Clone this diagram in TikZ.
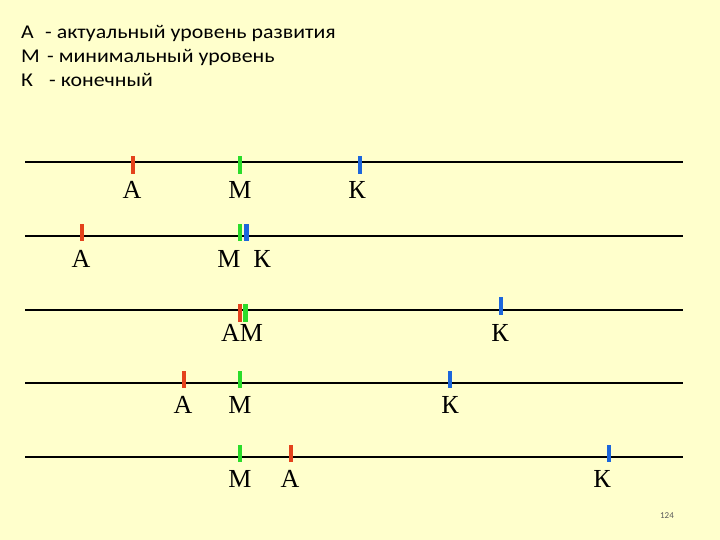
\documentclass[tikz,border=0pt]{standalone}
\usepackage{fontspec}
\setmainfont{Carlito}
\newfontfamily\legendfont{Carlito}[FakeStretch=1.12]
\newfontfamily\levelfont{Liberation Serif}
\usetikzlibrary{positioning}

\definecolor{paper}{HTML}{FFFFCC}
\definecolor{actred}{HTML}{E4421C}
\definecolor{mingreen}{HTML}{2ADC2A}
\definecolor{endblue}{HTML}{1C66DC}

\begin{document}
\begin{tikzpicture}[
    x=1pt,y=-1pt,
    axis/.style={line width=2.4pt},
    notch/.style={rectangle,inner sep=0pt,minimum width=4.5pt,minimum height=17.5pt},
    tickA/.style={notch,fill=actred},
    tickM/.style={notch,fill=mingreen},
    tickK/.style={notch,fill=endblue},
    letter/.style={inner sep=0pt,anchor=base,font=\levelfont\fontsize{26}{26}\selectfont},
    legend/.style={inner sep=0pt,anchor=base west,font=\legendfont\fontsize{19.5}{20}\selectfont}
    ]

  \fill[paper] (0,0) rectangle (720,540);
  \useasboundingbox (0,0) rectangle (720,540);

  % legend
  \node(keyA) [legend] at (21,39) {А};
  \node(descA) [legend] at (45,39) {- актуальный уровень развития};
  \node(keyM) [legend] at (21,63) {М};
  \node(descM) [legend] at (47,63) {- минимальный уровень};
  \node(keyK) [legend] at (21,87) {К};
  \node(descK) [legend] at (49,87) {- конечный};

  % scales
  \coordinate(w1) at (25,162);  \coordinate(e1) at (683,162);
  \coordinate(w2) at (25,236);  \coordinate(e2) at (683,236);
  \coordinate(w3) at (25,310);  \coordinate(e3) at (683,310);
  \coordinate(w4) at (25,383);  \coordinate(e4) at (683,383);
  \coordinate(w5) at (25,457);  \coordinate(e5) at (683,457);

  \draw[axis] (w1) -- (e1);
  \draw[axis] (w2) -- (e2);
  \draw[axis] (w3) -- (e3);
  \draw[axis] (w4) -- (e4);
  \draw[axis] (w5) -- (e5);

  % row 1
  \node(a1) [tickA] at (133,165) {};
  \node(m1) [tickM] at (240,165) {};
  \node(k1) [tickK] at (360,165) {};
  \node(labA1) [letter] at (132,199) {А};
  \node(labM1) [letter] at (240,199) {М};
  \node(labK1) [letter] at (357,199) {К};

  % row 2
  \node(a2) [tickA] at (82,232.5) {};
  \node(m2) [tickM] at (240,232.5) {};
  \node(k2) [tickK] at (246.5,232.5) {};
  \node(labA2) [letter] at (81,267) {А};
  \node(labM2) [letter] at (229,267) {М};
  \node(labK2) [letter] at (262,267) {К};

  % row 3
  \node(a3) [tickA] at (240,313) {};
  \node(m3) [tickM] at (245.5,313) {};
  \node(k3) [tickK] at (501,306) {};
  \node(labAM3) [letter] at (242,341) {АМ};
  \node(labK3) [letter] at (500,341) {К};

  % row 4
  \node(a4) [tickA] at (184,379.5) {};
  \node(m4) [tickM] at (240,379.5) {};
  \node(k4) [tickK] at (450,379.5) {};
  \node(labA4) [letter] at (183,413) {А};
  \node(labM4) [letter] at (240,413) {М};
  \node(labK4) [letter] at (450,413) {К};

  % row 5
  \node(m5) [tickM] at (240,453.5) {};
  \node(a5) [tickA] at (291,453.5) {};
  \node(k5) [tickK] at (609,453.5) {};
  \node(labM5) [letter] at (240,487) {М};
  \node(labA5) [letter] at (290,487) {А};
  \node(labK5) [letter] at (602,487) {К};

  \node(page) [inner sep=0pt,anchor=base,text=black!65,font=\fontsize{9}{10}\selectfont] at (667,518) {124};

\end{tikzpicture}
\end{document}
